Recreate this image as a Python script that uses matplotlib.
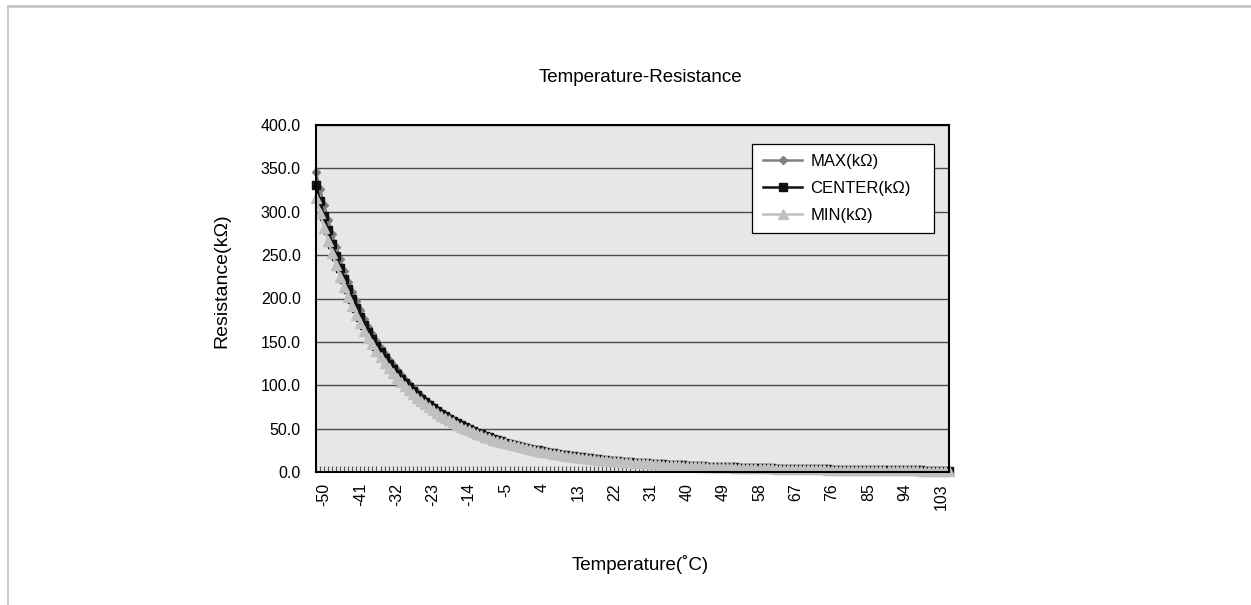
import numpy as np
import matplotlib
matplotlib.use('Agg')
import matplotlib.pyplot as plt
from matplotlib.lines import Line2D
from matplotlib.patches import Rectangle

# ---------------- data ----------------
temps = np.arange(-52, 106)  # categories, deg C
tick_labels = [-50, -41, -32, -23, -14, -5, 4, 13, 22, 31, 40, 49, 58, 67, 76, 85, 94, 103]
y_ticks = [0, 50, 100, 150, 200, 250, 300, 350, 400]
series_names = ['MAX(kΩ)', 'CENTER(kΩ)', 'MIN(kΩ)']

r_center = [
    331.0, 312.3, 294.7, 278.5, 263.3, 248.8, 235.2, 222.3, 210.6, 199.6,
    189.1, 179.1, 169.7, 161.2, 153.1, 145.4, 138.0, 131.1, 124.8, 118.7,
    113.0, 107.5, 102.3, 97.5, 93.0, 88.7, 84.5, 80.6, 77.0, 73.6,
    70.3, 67.2, 64.2, 61.4, 58.8, 56.2, 53.8, 51.5, 49.4, 47.3,
    45.4, 43.5, 41.7, 40.0, 38.4, 36.9, 35.4, 34.0, 32.7, 31.5,
    30.3, 29.1, 28.0, 26.9, 25.9, 25.0, 24.1, 23.2, 22.3, 21.5,
    20.7, 20.0, 19.3, 18.6, 18.0, 17.4, 16.8, 16.2, 15.7, 15.1,
    14.6, 14.1, 13.7, 13.2, 12.8, 12.4, 12.0, 11.6, 11.2, 10.9,
    10.5, 10.2, 9.9,
    9.6, 9.3, 9.0, 8.7, 8.5, 8.2, 8.0, 7.8, 7.5, 7.3,
    7.1, 6.9, 6.7, 6.5, 6.3, 6.16, 5.99, 5.83, 5.67, 5.51,
    5.36, 5.22, 5.08, 4.94, 4.81, 4.69, 4.56, 4.44, 4.33, 4.22,
    4.11, 4.01, 3.91, 3.81, 3.71, 3.62, 3.53, 3.44, 3.36, 3.28,
    3.20, 3.13, 3.05, 2.98, 2.91, 2.84, 2.78, 2.71, 2.65, 2.59,
    2.53, 2.47, 2.42, 2.36, 2.31, 2.26, 2.21, 2.16, 2.12, 2.07,
    2.03, 1.98, 1.94, 1.90, 1.86, 1.82, 1.79, 1.75, 1.72, 1.68,
    1.65, 1.61, 1.58, 1.54, 1.51,
]

r_max = [
    345.9, 326.2, 307.7, 290.6, 274.7, 259.4, 245.1, 231.6, 219.3, 207.8,
    196.8, 186.3, 176.4, 167.5, 159.0, 151.0, 143.2, 136.0, 129.4, 123.0,
    117.1, 111.3, 105.9, 100.9, 96.2, 91.7, 87.3, 83.2, 79.5, 75.9,
    72.5, 69.3, 66.2, 63.2, 60.5, 57.8, 55.3, 52.9, 50.8, 48.6,
    46.6, 44.6, 42.8, 41.0, 39.4, 37.8, 36.3, 34.8, 33.5, 32.2,
    31.0, 29.7, 28.6, 27.5, 26.4, 25.5, 24.6, 23.6, 22.7, 21.9,
    21.1, 20.3, 19.6, 18.9, 18.3, 17.7, 17.1, 16.4, 15.9, 15.3,
    14.8, 14.3, 13.9, 13.4, 13.0, 12.5, 12.1, 11.7, 11.3, 11.0,
    10.6, 10.3, 10.0,
    9.7, 9.4, 9.1, 8.8, 8.6, 8.3, 8.1, 7.9, 7.6, 7.4,
    7.2, 7.0, 6.8, 6.6, 6.4, 6.25, 6.08, 5.92, 5.75, 5.59,
    5.44, 5.30, 5.16, 5.02, 4.88, 4.76, 4.63, 4.51, 4.40, 4.29,
    4.18, 4.08, 3.98, 3.88, 3.78, 3.69, 3.59, 3.50, 3.42, 3.34,
    3.26, 3.19, 3.11, 3.04, 2.97, 2.90, 2.84, 2.77, 2.71, 2.65,
    2.59, 2.53, 2.48, 2.42, 2.37, 2.32, 2.27, 2.21, 2.17, 2.12,
    2.08, 2.03, 1.99, 1.95, 1.91, 1.87, 1.83, 1.79, 1.76, 1.72,
    1.69, 1.65, 1.62, 1.58, 1.55,
]

r_min = [
    316.1, 298.4, 281.7, 266.4, 251.9, 238.2, 225.3, 213.0, 201.9, 191.4,
    181.4, 171.9, 163.0, 154.9, 147.2, 139.8, 132.8, 126.2, 120.2, 114.4,
    108.9, 103.7, 98.7, 94.1, 89.8, 85.7, 81.7, 78.0, 74.5, 71.3,
    68.1, 65.1, 62.2, 59.6, 57.1, 54.6, 52.3, 50.0, 48.0, 46.0,
    44.2, 42.4, 40.6, 39.0, 37.4, 36.0, 34.5, 33.2, 31.9, 30.8,
    29.6, 28.5, 27.4, 26.3, 25.4, 24.5, 23.6, 22.8, 21.9, 21.1,
    20.3, 19.7, 19.0, 18.3, 17.7, 17.1, 16.5, 16.0, 15.5, 14.9,
    14.4, 13.9, 13.5, 13.0, 12.6, 12.3, 11.9, 11.5, 11.1, 10.8,
    10.4, 10.1, 9.8,
    9.5, 9.2, 8.9, 8.6, 8.4, 8.1, 7.9, 7.7, 7.4, 7.2,
    7.0, 6.8, 6.6, 6.4, 6.2, 6.07, 5.90, 5.74, 5.59, 5.43,
    5.28, 5.14, 5.00, 4.86, 4.74, 4.62, 4.49, 4.37, 4.26, 4.15,
    4.04, 3.94, 3.84, 3.74, 3.64, 3.55, 3.47, 3.38, 3.30, 3.22,
    3.14, 3.07, 2.99, 2.92, 2.85, 2.78, 2.72, 2.65, 2.59, 2.53,
    2.47, 2.41, 2.36, 2.30, 2.25, 2.20, 2.15, 2.11, 2.07, 2.02,
    1.98, 1.93, 1.89, 1.85, 1.81, 1.77, 1.75, 1.71, 1.68, 1.64,
    1.61, 1.57, 1.54, 1.50, 1.47,
]

# ---------------- figure ----------------
plt.rcParams['font.family'] = ['Liberation Sans', 'DejaVu Sans']
W, H = 1251, 605
fig = plt.figure(figsize=(W / 100, H / 100), dpi=100)
fig.patch.set_facecolor('white')

# screenshot frame lines (top and left)
fig.add_artist(Line2D([8 / W, 1.0], [1 - 6 / H, 1 - 6 / H], transform=fig.transFigure,
                      color='#bdbdc5', lw=1.8))
fig.add_artist(Line2D([8 / W, 8 / W], [0.0, 1 - 6 / H], transform=fig.transFigure,
                      color='#c8c8c8', lw=1.3))

# plot area in pixels: x 316..949, y 125..472
AX_L, AX_R, AX_T, AX_B = 316, 949, 125, 472
AW, AH = AX_R - AX_L, AX_B - AX_T
ax = fig.add_axes([AX_L / W, (H - AX_B) / H, AW / W, AH / H])
ax.set_facecolor('#e7e7e7')

def px(xp, yp):
    return ((xp - AX_L) / AW, (AX_B - yp) / AH)

ax.plot(temps, r_max, color='#808080', lw=1.8, marker='D', ms=4.3,
        mfc='#808080', mec='#808080', label=series_names[0], zorder=3, clip_on=False)
ax.plot(temps, r_center, color='#111111', lw=1.8, marker='s', ms=5.6,
        mfc='#111111', mec='#111111', label=series_names[1], zorder=4, clip_on=False)
ax.plot(temps, r_min, color='#c0c0c0', lw=1.8, marker='^', ms=6.5,
        mfc='#c0c0c0', mec='#c0c0c0', label=series_names[2], zorder=5, clip_on=False)

ax.set_xlim(temps[0], temps[-1])
ax.set_ylim(y_ticks[0], y_ticks[-1])
ax.set_yticks(y_ticks)
ax.set_yticklabels([f'{v:.1f}' for v in y_ticks])
ax.yaxis.grid(True, color='#4a4a4a', lw=1.0)
ax.set_axisbelow(True)

ax.set_xticks(tick_labels)
ax.set_xticklabels([str(t) for t in tick_labels], rotation=90)
ax.set_xticks(temps, minor=True)
ax.tick_params(axis='x', which='both', direction='in', length=4.5, width=0.8,
               color='#555555', labelsize=11.5, pad=8)
ax.tick_params(axis='y', length=0, labelsize=11.5, pad=11)

for s in ax.spines.values():
    s.set_linewidth(1.5)
    s.set_color('black')
    s.set_zorder(6)

# legend box frame
x0, y0 = px(752, 233)
x1, y1 = px(934, 144)
ax.add_patch(Rectangle((x0, y0), x1 - x0, y1 - y0, transform=ax.transAxes,
                       facecolor='white', edgecolor='black', lw=0.9, zorder=7))
leg = ax.legend(loc='center left', bbox_to_anchor=px(763, 188.5),
                borderaxespad=0, borderpad=0, frameon=False,
                fontsize=12, handlelength=2.35, handletextpad=0.5,
                labelspacing=0.72, numpoints=1)
leg.set_zorder(8)

fig.text(640.5 / W, 1 - 78 / H, 'Temperature-Resistance', ha='center', va='center',
         fontsize=13.5)
fig.text(640 / W, 1 - 565 / H, 'Temperature(˚C)', ha='center', va='center',
         fontsize=13.5)
fig.text(222 / W, 1 - 281 / H, 'Resistance(kΩ)', ha='center', va='center',
         rotation=90, fontsize=14)

fig.savefig('out.png', dpi=100)
